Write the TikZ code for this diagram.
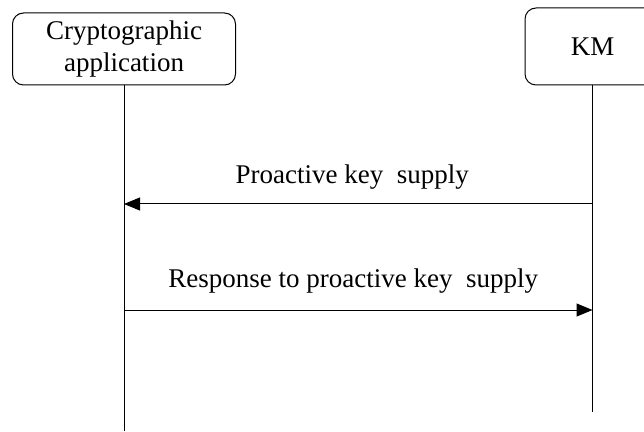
\documentclass[tikz,border=0pt]{standalone}
\usepackage{fontspec}
\setmainfont{Liberation Serif}
\usetikzlibrary{arrows.meta}
\usetikzlibrary{positioning}

\begin{document}
\begin{tikzpicture}[x=1pt,y=1pt,>={Triangle[length=16pt,width=13pt]},
                    line width=1pt]
 				 \tikzstyle{party}=[draw, rounded corners=11pt, align=center, inner sep=0pt,
 				                    font=\fontsize{27}{32}\selectfont]
 				 \tikzstyle{msg}=[anchor=base, inner sep=0pt, font=\fontsize{27}{32}\selectfont]
 				 \useasboundingbox (0,0) rectangle (644,431);
 					 \node[party, minimum width=223pt, minimum height=72pt] (app) at (124,382) {Cryptographic\\application};
 					 \node[party, minimum width=135pt, minimum height=77pt] (km)  at (592.5,384.5) {KM};
 					 % lifelines
 					 \coordinate (append) at (app.south |- 0,0);
 					 \coordinate (kmend)  at (km.south |- 0,19);
 					 \draw (app.south) -- (append);
 					 \draw (km.south) -- (kmend);
 					 % messages
 					 \coordinate (app1) at (app.south |- 0,227);
 					 \coordinate (km1)  at (km.south |- 0,227);
 					 \coordinate (app2) at (app.south |- 0,121);
 					 \coordinate (km2)  at (km.south |- 0,121);
 					 \draw[->] (km1) -- node[msg, xshift=-6pt, yshift=20pt] {Proactive key\ \ supply} (app1);
 					 \draw[->] (app2) -- node[msg, xshift=-5pt, yshift=23pt] {Response to proactive key\ \ supply} (km2);
				\end{tikzpicture}
\end{document}
